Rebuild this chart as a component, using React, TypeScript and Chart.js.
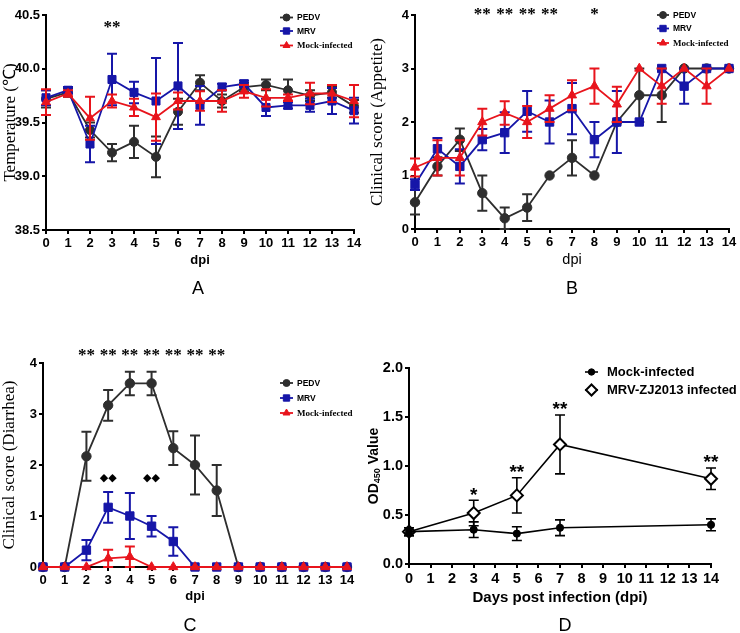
import React, { useEffect, useRef } from "react";
import { Chart, registerables } from "chart.js";

Chart.register(...registerables);

// ---------------- DATA ----------------
const days = [0, 1, 2, 3, 4, 5, 6, 7, 8, 9, 10, 11, 12, 13, 14];
const groupLabels = ["PEDV", "MRV", "Mock-infected"];

// Panel A: Temperature
const tempPEDV = [39.72, 39.78, 39.43, 39.22, 39.32, 39.18, 39.6, 39.87, 39.7, 39.83, 39.85, 39.8, 39.75, 39.78, 39.65];
const tempPEDVErr = [0.08, 0.04, 0.07, 0.08, 0.15, 0.19, 0.12, 0.07, 0.06, 0.04, 0.05, 0.1, 0.05, 0.05, 0.06];
const tempMRV = [39.73, 39.8, 39.3, 39.9, 39.78, 39.7, 39.84, 39.66, 39.83, 39.86, 39.64, 39.66, 39.66, 39.7, 39.61];
const tempMRVErr = [0.07, 0.03, 0.17, 0.24, 0.1, 0.4, 0.4, 0.18, 0.03, 0.03, 0.08, 0.03, 0.06, 0.12, 0.12];
const tempMock = [39.69, 39.77, 39.54, 39.7, 39.64, 39.55, 39.7, 39.7, 39.7, 39.79, 39.73, 39.73, 39.77, 39.77, 39.7];
const tempMockErr = [0.12, 0.03, 0.2, 0.06, 0.08, 0.22, 0.08, 0.09, 0.1, 0.06, 0.08, 0.03, 0.1, 0.08, 0.15];
const tempStarDays = [3];
const tempStars = ["**"];

// Panel B: Appetite score
const appPEDV = [0.5, 1.17, 1.67, 0.67, 0.2, 0.4, 1.0, 1.33, 1.0, 2.0, 2.5, 2.5, 3.0, 3.0, 3.0];
const appPEDVErr = [0.23, 0.17, 0.21, 0.33, 0.2, 0.25, 0, 0.33, 0, 0, 0.5, 0.5, 0, 0, 0];
const appMRV = [0.83, 1.5, 1.17, 1.67, 1.8, 2.2, 2.0, 2.25, 1.67, 2.0, 2.0, 3.0, 2.67, 3.0, 3.0];
const appMRVErr = [0.1, 0.2, 0.32, 0.2, 0.38, 0.38, 0.4, 0.48, 0.33, 0.58, 0, 0, 0.33, 0, 0];
const appMock = [1.15, 1.33, 1.33, 2.0, 2.17, 2.0, 2.25, 2.5, 2.67, 2.33, 3.0, 2.67, 3.0, 2.67, 3.0];
const appMockErr = [0.17, 0.33, 0.33, 0.25, 0.22, 0.3, 0.25, 0.28, 0.33, 0.33, 0, 0.33, 0, 0.33, 0];
const appStarDays = [3, 4, 5, 6, 8];
const appStars = ["**", "**", "**", "**", "*"];

// Panel C: Diarrhea score
const diaPEDV = [0, 0, 2.17, 3.17, 3.6, 3.6, 2.33, 2.0, 1.5, 0, 0, 0, 0, 0, 0];
const diaPEDVErr = [0, 0, 0.48, 0.3, 0.23, 0.23, 0.33, 0.58, 0.5, 0, 0, 0, 0, 0, 0];
const diaMRV = [0, 0, 0.33, 1.17, 1.0, 0.8, 0.5, 0, 0, 0, 0, 0, 0, 0, 0];
const diaMRVErr = [0, 0, 0.2, 0.3, 0.45, 0.2, 0.28, 0, 0, 0, 0, 0, 0, 0, 0];
const diaMock = [0, 0, 0, 0.17, 0.2, 0, 0, 0, 0, 0, 0, 0, 0, 0, 0];
const diaMockErr = [0, 0, 0, 0.17, 0.2, 0, 0, 0, 0, 0, 0, 0, 0, 0, 0];
const diaStarDays = [2, 3, 4, 5, 6, 7, 8];
const diaStars = ["**", "**", "**", "**", "**", "**", "**"];
const diaDiamondDays = [3, 5];
const diaDiamonds = ["◆◆", "◆◆"];

// Panel D: OD450
const odDays = [0, 3, 5, 7, 14];
const odLabels = ["Mock-infected", "MRV-ZJ2013 infected"];
const odMock = [0.33, 0.35, 0.31, 0.37, 0.4];
const odMockErr = [0.04, 0.08, 0.07, 0.08, 0.06];
const odMRV = [0.33, 0.52, 0.7, 1.22, 0.87];
const odMRVErr = [0.04, 0.13, 0.18, 0.3, 0.11];
const odStars = ["", "*", "**", "**", "**"];

// ---------------- STYLE ----------------
const SANS = "Arial, 'Liberation Sans', sans-serif";
const SERIF = "'Times New Roman', 'Liberation Serif', serif";
const BLACK = "#2e2e2e";
const BLUE = "#1616a8";
const RED = "#e8141c";

type Marker = "circle" | "rect" | "triangle" | "rectRot";

interface SeriesDef {
  label: string;
  x: number[];
  y: number[];
  err: number[];
  color: string;
  fill: string;
  marker: Marker;
  radius: number;
  pointBorder: number;
  lineWidth: number;
  errWidth: number;
  order: number;
}

interface LegendDef {
  x1: number;
  x2: number;
  textX: number;
  ys: number[];
  markerR: number[];
  fonts: string[];
}

interface NoteDef {
  x: number;
  text: string;
  font: string;
  pageY?: number;
  above?: number;
  shift: number;
}

interface PanelDef {
  left: number;
  top: number;
  width: number;
  height: number;
  area: { l: number; t: number; r: number; b: number };
  xMax: number;
  yMin: number;
  yMax: number;
  yStep: number;
  yDecimals: number;
  tickSize: number;
  yTitle?: { text: string; family: string; size: number; weight: string; cx: number };
  odTitle?: { cx: number; size: number };
  xTitle: { text: string; family: string; size: number; weight: string; cy: number };
  series: SeriesDef[];
  legend: LegendDef;
  notes: NoteDef[];
  cap: number;
  letter: { text: string; cx: number; cy: number };
}

function threeSeries(ys: number[][], errs: number[][], r: number): SeriesDef[] {
  const colors = [BLACK, BLUE, RED];
  const markers: Marker[] = ["circle", "rect", "triangle"];
  const radii = [r, r + 1.2, r + 0.6];
  const orders = [2, 1, 0];
  return groupLabels.map((label, i) => ({
    label,
    x: days,
    y: ys[i],
    err: errs[i],
    color: colors[i],
    fill: colors[i],
    marker: markers[i],
    radius: radii[i],
    pointBorder: 1,
    lineWidth: 1.8,
    errWidth: 2,
    order: orders[i],
  }));
}

const legendFonts3 = [`bold 8.5px ${SANS}`, `bold 8.5px ${SANS}`, `bold 9px ${SERIF}`];

function starNotes(ds: number[], texts: string[], pageY: number, font: string, shift: number): NoteDef[] {
  return ds.map((d, i) => ({ x: d, text: texts[i], font, pageY, shift }));
}

const panels: PanelDef[] = [
  {
    left: 0,
    top: 0,
    width: 368,
    height: 305,
    area: { l: 46, t: 15, r: 354, b: 230 },
    xMax: 14,
    yMin: 38.5,
    yMax: 40.5,
    yStep: 0.5,
    yDecimals: 1,
    tickSize: 13,
    yTitle: { text: "Temperature (℃)", family: SERIF, size: 17, weight: "normal", cx: 11 },
    xTitle: { text: "dpi", family: SANS, size: 13, weight: "bold", cy: 260 },
    series: threeSeries([tempPEDV, tempMRV, tempMock], [tempPEDVErr, tempMRVErr, tempMockErr], 4.5),
    legend: { x1: 280, x2: 293, textX: 297, ys: [17.5, 31, 45.5], markerR: [3.5, 4.5, 4], fonts: legendFonts3 },
    notes: starNotes(tempStarDays, tempStars, 25, `bold 17px ${SERIF}`, 3),
    cap: 5,
    letter: { text: "A", cx: 198, cy: 288 },
  },
  {
    left: 368,
    top: 0,
    width: 372,
    height: 305,
    area: { l: 415, t: 15, r: 729, b: 229 },
    xMax: 14,
    yMin: 0,
    yMax: 4,
    yStep: 1,
    yDecimals: 0,
    tickSize: 13,
    yTitle: { text: "Clinical score (Appetite)", family: SERIF, size: 17, weight: "normal", cx: 378 },
    xTitle: { text: "dpi", family: SANS, size: 14.5, weight: "normal", cy: 260 },
    series: threeSeries([appPEDV, appMRV, appMock], [appPEDVErr, appMRVErr, appMockErr], 4.7),
    legend: { x1: 657, x2: 669, textX: 673, ys: [15, 28.5, 43], markerR: [3.5, 4.5, 4], fonts: legendFonts3 },
    notes: starNotes(appStarDays, appStars, 12, `bold 17px ${SERIF}`, 3),
    cap: 5,
    letter: { text: "B", cx: 572, cy: 288 },
  },
  {
    left: 0,
    top: 320,
    width: 368,
    height: 313,
    area: { l: 43, t: 363, r: 347, b: 567 },
    xMax: 14,
    yMin: 0,
    yMax: 4,
    yStep: 1,
    yDecimals: 0,
    tickSize: 13,
    yTitle: { text: "Clinical score (Diarrhea)", family: SERIF, size: 17, weight: "normal", cx: 10 },
    xTitle: { text: "dpi", family: SANS, size: 13, weight: "bold", cy: 596 },
    series: threeSeries([diaPEDV, diaMRV, diaMock], [diaPEDVErr, diaMRVErr, diaMockErr], 4.7),
    legend: { x1: 280, x2: 293, textX: 297, ys: [383, 398, 413], markerR: [3.5, 4.5, 4], fonts: legendFonts3 },
    notes: [
      ...starNotes(diaStarDays, diaStars, 353, `bold 17px ${SERIF}`, 3),
      ...starNotes(diaDiamondDays, diaDiamonds, 478, `11px 'DejaVu Sans', sans-serif`, 0),
    ],
    cap: 5,
    letter: { text: "C", cx: 190, cy: 625 },
  },
  {
    left: 362,
    top: 320,
    width: 378,
    height: 313,
    area: { l: 409, t: 368, r: 711, b: 564 },
    xMax: 14,
    yMin: 0,
    yMax: 2,
    yStep: 0.5,
    yDecimals: 1,
    tickSize: 14.5,
    odTitle: { cx: 374, size: 14 },
    xTitle: { text: "Days post infection (dpi)", family: SANS, size: 15, weight: "bold", cy: 598 },
    series: [
      {
        label: odLabels[0],
        x: odDays,
        y: odMock,
        err: odMockErr,
        color: "#000",
        fill: "#000",
        marker: "circle",
        radius: 3.6,
        pointBorder: 1,
        lineWidth: 1.6,
        errWidth: 1.6,
        order: 0,
      },
      {
        label: odLabels[1],
        x: odDays,
        y: odMRV,
        err: odMRVErr,
        color: "#000",
        fill: "#fff",
        marker: "rectRot",
        radius: 6,
        pointBorder: 2,
        lineWidth: 1.6,
        errWidth: 1.6,
        order: 1,
      },
    ],
    legend: { x1: 585, x2: 598, textX: 607, ys: [372, 390], markerR: [3.2, 5.5], fonts: [`bold 13px ${SANS}`, `bold 13px ${SANS}`] },
    notes: odDays
      .map((d, i) => ({ x: d, text: odStars[i], font: `bold 19px ${SANS}`, above: odMRV[i] + odMRVErr[i], shift: 4 }))
      .filter((n) => n.text !== ""),
    cap: 5,
    letter: { text: "D", cx: 565, cy: 625 },
  },
];

// ---------------- DRAW HELPERS ----------------
function drawMarker(
  ctx: CanvasRenderingContext2D,
  m: Marker,
  x: number,
  y: number,
  r: number,
  fill: string,
  stroke: string,
  bw: number
) {
  ctx.save();
  ctx.beginPath();
  if (m === "circle") {
    ctx.arc(x, y, r, 0, Math.PI * 2);
  } else if (m === "rect") {
    const s = r * Math.SQRT1_2;
    ctx.rect(x - s, y - s, 2 * s, 2 * s);
  } else if (m === "triangle") {
    let a = 0;
    ctx.moveTo(x + Math.sin(a) * r, y - Math.cos(a) * r);
    a += (2 * Math.PI) / 3;
    ctx.lineTo(x + Math.sin(a) * r, y - Math.cos(a) * r);
    a += (2 * Math.PI) / 3;
    ctx.lineTo(x + Math.sin(a) * r, y - Math.cos(a) * r);
    ctx.closePath();
  } else {
    ctx.moveTo(x, y - r);
    ctx.lineTo(x + r, y);
    ctx.lineTo(x, y + r);
    ctx.lineTo(x - r, y);
    ctx.closePath();
  }
  ctx.fillStyle = fill;
  ctx.fill();
  ctx.lineWidth = bw;
  ctx.strokeStyle = stroke;
  ctx.stroke();
  ctx.restore();
}

function buildConfig(d: PanelDef): any {
  const aL = d.area.l - d.left;
  const aR = d.area.r - d.left;
  const aT = d.area.t - d.top;
  const aB = d.area.b - d.top;
  const yT = d.yTitle;
  const padL = yT ? yT.cx - d.left - (yT.size * 1.2) / 2 : 0;
  const yW = aL - padL;
  const xLH = d.xTitle.size * 1.2;
  const xBottom = d.xTitle.cy - d.top + xLH / 2;
  const xH = xBottom - aB;
  const padB = d.height - xBottom;
  const tickFont = { family: SANS, size: d.tickSize, weight: "bold" as const };

  const errorPlugin = {
    id: "errorBars",
    beforeDatasetDraw(chart: any, args: any) {
      const ds = chart.data.datasets[args.index];
      const errs: number[] = ds.errors;
      if (!errs) return;
      const { ctx } = chart;
      const xs = chart.scales.x;
      const ys = chart.scales.y;
      ctx.save();
      ctx.strokeStyle = ds.borderColor;
      ctx.lineWidth = ds.errWidth;
      ds.data.forEach((pt: any, j: number) => {
        const e = errs[j];
        if (!e) return;
        const px = xs.getPixelForValue(pt.x);
        const top = ys.getPixelForValue(pt.y + e);
        const bot = ys.getPixelForValue(pt.y - e);
        ctx.beginPath();
        ctx.moveTo(px, top);
        ctx.lineTo(px, bot);
        ctx.moveTo(px - d.cap, top);
        ctx.lineTo(px + d.cap, top);
        ctx.moveTo(px - d.cap, bot);
        ctx.lineTo(px + d.cap, bot);
        ctx.stroke();
      });
      ctx.restore();
    },
  };

  const overlayPlugin = {
    id: "overlay",
    afterDraw(chart: any) {
      const { ctx } = chart;
      const xs = chart.scales.x;
      const ys = chart.scales.y;
      // legend
      const lg = d.legend;
      d.series.forEach((s, i) => {
        const y = lg.ys[i] - d.top;
        ctx.save();
        ctx.strokeStyle = s.color;
        ctx.lineWidth = s.lineWidth;
        ctx.beginPath();
        ctx.moveTo(lg.x1 - d.left, y);
        ctx.lineTo(lg.x2 - d.left, y);
        ctx.stroke();
        ctx.restore();
        drawMarker(ctx, s.marker, (lg.x1 + lg.x2) / 2 - d.left, y, lg.markerR[i], s.fill, s.color, s.pointBorder);
        ctx.save();
        ctx.fillStyle = "#000";
        ctx.font = lg.fonts[i];
        ctx.textAlign = "left";
        ctx.textBaseline = "middle";
        ctx.fillText(s.label, lg.textX - d.left, y + 0.5);
        ctx.restore();
      });
      // annotations
      d.notes.forEach((n) => {
        const px = xs.getPixelForValue(n.x);
        let py: number;
        if (n.above !== undefined) {
          py = ys.getPixelForValue(n.above) - 9;
        } else {
          py = (n.pageY as number) - d.top;
        }
        ctx.save();
        ctx.fillStyle = "#000";
        ctx.font = n.font;
        ctx.textAlign = "center";
        ctx.textBaseline = "middle";
        ctx.fillText(n.text, px, py + n.shift);
        ctx.restore();
      });
      // OD450 title with subscript
      if (d.odTitle) {
        const t = d.odTitle;
        const cx = t.cx - d.left;
        const cy = (chart.chartArea.top + chart.chartArea.bottom) / 2;
        const big = `bold ${t.size}px ${SANS}`;
        const small = `bold ${Math.round(t.size * 0.65)}px ${SANS}`;
        ctx.save();
        ctx.translate(cx, cy);
        ctx.rotate(-Math.PI / 2);
        ctx.fillStyle = "#000";
        ctx.textBaseline = "middle";
        ctx.textAlign = "left";
        ctx.font = big;
        const w1 = ctx.measureText("OD").width;
        const w3 = ctx.measureText(" Value").width;
        ctx.font = small;
        const w2 = ctx.measureText("450").width;
        const x0 = -(w1 + w2 + w3) / 2;
        ctx.font = big;
        ctx.fillText("OD", x0, 0);
        ctx.font = small;
        ctx.fillText("450", x0 + w1, t.size * 0.28);
        ctx.font = big;
        ctx.fillText(" Value", x0 + w1 + w2, 0);
        ctx.restore();
      }
    },
  };

  return {
    type: "line",
    data: {
      datasets: d.series.map((s) => ({
        label: s.label,
        data: s.x.map((xv, i) => ({ x: xv, y: s.y[i] })),
        errors: s.err,
        errWidth: s.errWidth,
        borderColor: s.color,
        backgroundColor: s.fill,
        borderWidth: s.lineWidth,
        pointStyle: s.marker,
        pointRadius: s.radius,
        pointHoverRadius: s.radius,
        pointBackgroundColor: s.fill,
        pointBorderColor: s.color,
        pointBorderWidth: s.pointBorder,
        tension: 0,
        fill: false,
        order: s.order,
        clip: false,
      })),
    },
    options: {
      responsive: false,
      animation: false,
      events: [],
      layout: { padding: { left: padL, top: aT, right: d.width - aR, bottom: padB } },
      plugins: { legend: { display: false }, tooltip: { enabled: false }, title: { display: false } },
      scales: {
        x: {
          type: "linear",
          min: 0,
          max: d.xMax,
          ticks: { stepSize: 1, autoSkip: false, maxRotation: 0, minRotation: 0, color: "#000", font: tickFont, padding: 2 },
          grid: { display: true, drawOnChartArea: false, drawTicks: true, tickLength: 4, color: "#000", lineWidth: 2 },
          border: { display: true, color: "#000", width: 2 },
          title: {
            display: true,
            text: d.xTitle.text,
            color: "#000",
            font: { family: d.xTitle.family, size: d.xTitle.size, weight: d.xTitle.weight },
            padding: 0,
          },
          afterFit: (sc: any) => {
            sc.height = xH;
          },
        },
        y: {
          type: "linear",
          min: d.yMin,
          max: d.yMax,
          ticks: {
            stepSize: d.yStep,
            autoSkip: false,
            color: "#000",
            font: tickFont,
            padding: 2,
            callback: (v: any) => Number(v).toFixed(d.yDecimals),
          },
          grid: { display: true, drawOnChartArea: false, drawTicks: true, tickLength: 4, color: "#000", lineWidth: 2 },
          border: { display: true, color: "#000", width: 2 },
          title: yT
            ? {
                display: true,
                text: yT.text,
                color: "#000",
                font: { family: yT.family, size: yT.size, weight: yT.weight },
                padding: 0,
              }
            : { display: false },
          afterFit: (sc: any) => {
            sc.width = yW;
          },
        },
      },
    },
    plugins: [errorPlugin, overlayPlugin],
  };
}

function Panel({ def }: { def: PanelDef }) {
  const ref = useRef<HTMLCanvasElement>(null);
  useEffect(() => {
    const chart = new Chart(ref.current as HTMLCanvasElement, buildConfig(def));
    return () => chart.destroy();
  }, [def]);
  return (
    <>
      <canvas
        ref={ref}
        width={def.width}
        height={def.height}
        style={{ position: "absolute", left: def.left, top: def.top, width: def.width, height: def.height }}
      />
      <div
        style={{
          position: "absolute",
          left: def.letter.cx,
          top: def.letter.cy,
          transform: "translate(-50%, -50%)",
          fontFamily: SANS,
          fontSize: 18,
          lineHeight: 1,
          color: "#000",
        }}
      >
        {def.letter.text}
      </div>
    </>
  );
}

export default function App() {
  return (
    <div
      style={{
        position: "absolute",
        left: 0,
        top: 0,
        width: 740,
        height: 633,
        background: "#fff",
        overflow: "hidden",
      }}
    >
      {panels.map((p, i) => (
        <Panel key={i} def={p} />
      ))}
    </div>
  );
}
